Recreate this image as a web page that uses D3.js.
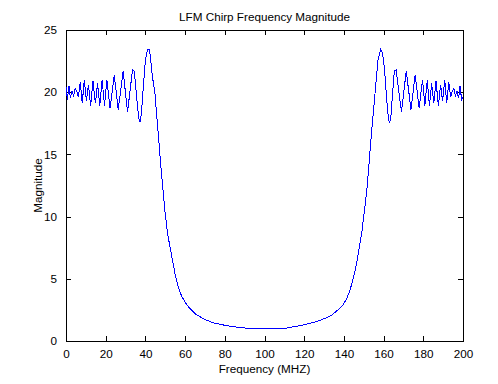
<!DOCTYPE html>
<html>
<head>
<meta charset="utf-8">
<script src="https://cdn.jsdelivr.net/npm/d3@7"></script>
<style>
  html, body { margin: 0; padding: 0; background: #fff; }
  svg text { font-family: "Liberation Sans", Arial, sans-serif; font-size: 11.7px; fill: #000; }
</style>
</head>
<body>
<svg id="chart" width="498" height="384"></svg>
<script>
// ---- data ----
const titleText = "LFM Chirp Frequency Magnitude";
const xLabelText = "Frequency (MHZ)";
const yLabelText = "Magnitude";
const xTicks = [0, 20, 40, 60, 80, 100, 120, 140, 160, 180, 200];
const yTicks = [0, 5, 10, 15, 20, 25];

const freq = [
  0, 0.7, 1.5, 2.2, 3.0, 3.8, 4.6, 5.4, 6.2, 7.2, 8.2, 9.2, 10.3, 11.3, 12.4, 13.6, 14.8, 15.9, 17.0, 18.2,
  19.4, 20.6, 22.2, 24.3, 26.3, 28.8, 31.0, 33.5, 34.4, 36.6, 37.3, 38.0, 39.0, 40.0, 41.0, 41.8, 42.5, 43.5, 44.8, 46.2,
  47.4, 48.6, 50.0, 51.3, 52.6, 54.0, 55.3, 56.8, 58.3, 60.5, 62.5, 65, 69, 74, 81, 89, 95, 100, 105, 111,
  119, 126, 131, 134, 137, 139.5, 141.4, 143.1, 144.5, 145.6, 147.3, 149.0, 150.6, 151.6, 152.5, 153.3, 154.5, 155.4, 156.3, 157.2,
  158.5, 159.4, 160.5, 161.5, 162.5, 163.0, 163.6, 165.4, 166.3, 169.0, 171.4, 173.8, 175.9, 177.9, 179.6, 180.8, 182.0, 183.1, 184.2, 185.3,
  186.4, 187.6, 188.7, 189.7, 190.8, 191.8, 192.8, 193.8, 194.6, 195.4, 196.2, 197.0, 197.8, 198.5, 199.3, 200
];
const magnitude = [
  20.4, 19.4, 20.5, 19.5, 20.1, 19.7, 20.3, 20.1, 19.6, 20.8, 19.1, 21.0, 19.3, 20.6, 18.9, 20.9, 19.1, 20.7, 18.9, 21.0,
  18.9, 21.0, 18.7, 21.4, 18.6, 21.7, 18.4, 21.8, 21.7, 17.9, 17.6, 18.3, 20.5, 22.6, 23.4, 23.45, 22.9, 21.3, 19.9, 17.2,
  14.8, 12.6, 10.2, 8.5, 7.4, 6.2, 5.1, 4.2, 3.6, 3.0, 2.6, 2.2, 1.8, 1.47, 1.23, 1.05, 1.02, 1.02, 1.02, 1.04,
  1.27, 1.55, 1.85, 2.1, 2.5, 2.9, 3.4, 4.1, 4.9, 5.6, 7.05, 8.7, 10.8, 12.2, 13.9, 15.6, 17.8, 19.4, 21.0, 22.6,
  23.45, 23.2, 21.8, 19.5, 17.8, 17.5, 17.9, 21.7, 21.8, 18.4, 21.7, 18.6, 21.4, 18.7, 21.0, 18.9, 21.0, 18.9, 20.7, 19.1,
  20.9, 18.9, 20.6, 19.3, 21.0, 19.1, 20.8, 19.6, 20.1, 20.3, 19.7, 20.1, 19.5, 20.5, 19.4, 19.6
];

// ---- layout ----
const svg = d3.select("#chart");
const mLeft = 66, mRight = 463, mTop = 30, mBottom = 341;

const x = d3.scaleLinear().domain([0, 200]).range([mLeft, mRight]);
const y = d3.scaleLinear().domain([0, 25]).range([mBottom, mTop]);

const tickLen = 5;

const gx = svg.append("g").attr("transform", `translate(0,${mBottom})`)
  .call(d3.axisBottom(x).tickValues(xTicks).tickSizeInner(-tickLen).tickSizeOuter(0).tickPadding(9).tickFormat(d3.format("d")));
const gxt = svg.append("g").attr("transform", `translate(0,${mTop})`)
  .call(d3.axisTop(x).tickValues(xTicks).tickSizeInner(-tickLen).tickSizeOuter(0).tickFormat(""));
const gy = svg.append("g").attr("transform", `translate(${mLeft},0)`)
  .call(d3.axisLeft(y).tickValues(yTicks).tickSizeInner(-tickLen).tickSizeOuter(0).tickPadding(9).tickFormat(d3.format("d")));
const gyr = svg.append("g").attr("transform", `translate(${mRight},0)`)
  .call(d3.axisRight(y).tickValues(yTicks).tickSizeInner(-tickLen).tickSizeOuter(0).tickFormat(""));

[gx, gxt, gy, gyr].forEach(g => {
  g.select(".domain").remove();
  g.selectAll("line").attr("stroke", "#000").attr("shape-rendering", "crispEdges");
  g.attr("font-family", null).attr("font-size", null);
});

svg.append("rect")
  .attr("x", mLeft).attr("y", mTop)
  .attr("width", mRight - mLeft).attr("height", mBottom - mTop)
  .attr("fill", "none").attr("stroke", "#000").attr("stroke-width", 1)
  .attr("shape-rendering", "crispEdges");

const pts = freq.map((f, i) => [f, magnitude[i]]);
svg.append("path")
  .datum(pts)
  .attr("fill", "none")
  .attr("stroke", "#0000ff")
  .attr("stroke-width", 1)
  .attr("shape-rendering", "crispEdges")
  .attr("d", d3.line().x(d => x(d[0])).y(d => y(d[1])));

svg.append("text").attr("x", (mLeft + mRight) / 2).attr("y", 21)
  .attr("text-anchor", "middle").text(titleText);
svg.append("text").attr("x", (mLeft + mRight) / 2).attr("y", 373)
  .attr("text-anchor", "middle").text(xLabelText);
svg.append("text")
  .attr("transform", `translate(42,${(mTop + mBottom) / 2}) rotate(-90)`)
  .attr("text-anchor", "middle").text(yLabelText);
</script>
</body>
</html>
